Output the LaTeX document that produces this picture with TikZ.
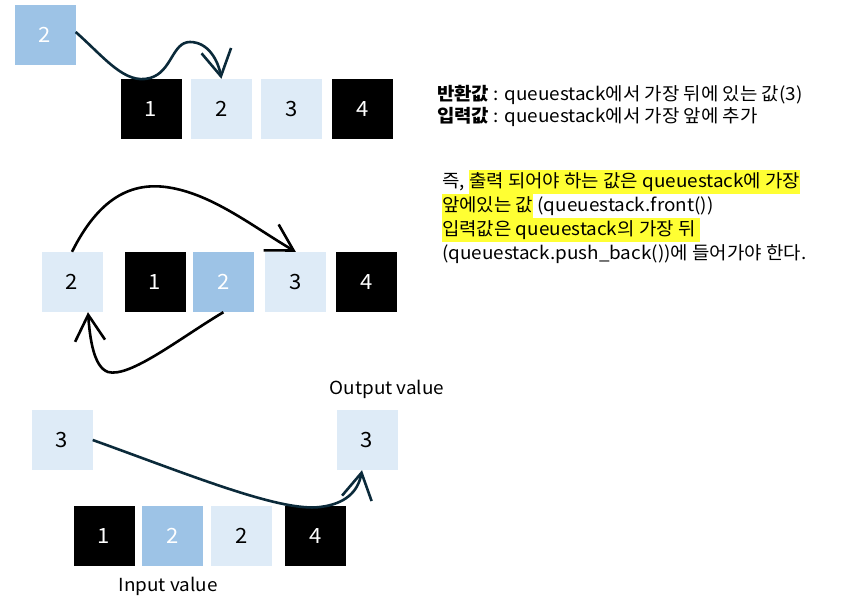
\documentclass[tikz,border=0pt]{standalone}
\usepackage{fontspec}
\setmainfont{Noto Sans CJK KR}[FakeStretch=1.05]
\usetikzlibrary{positioning}
\usetikzlibrary{arrows.meta}
\definecolor{cellblue}{HTML}{9DC3E6}
\definecolor{cellpale}{HTML}{DEEBF7}
\definecolor{arrownavy}{HTML}{0B2A3A}
\definecolor{markyellow}{HTML}{FFFF33}
\newcommand{\hlmark}[1]{{\setlength{\fboxsep}{0pt}\colorbox{markyellow}{\strut #1}}}

\begin{document}
\begin{tikzpicture}[x=1pt, y=-1pt, node distance=9pt,
    every node/.style={inner sep=0pt, font=\fontsize{21}{25}\selectfont},
    cell/.style={minimum width=61pt, minimum height=60pt},
    darkcell/.style={cell, fill=black, text=white},
    bluecell/.style={cell, fill=cellblue, text=white},
    palecell/.style={cell, fill=cellpale, text=black},
    swoop/.style={line width=2.6pt, -{Straight Barb[length=26pt, width=30pt]}},
    note/.style={anchor=base west, font=\fontsize{18}{24}\selectfont},
    caption/.style={font=\fontsize{18}{22}\selectfont}]

    \useasboundingbox (0,0) rectangle (847,610);

    % First step: push front
    \node[bluecell] (topin) at (45,35) {2};
    \node[darkcell] (top1) at (151,109) {1};
    \node[palecell, right=of top1] (top2) {2};
    \node[palecell, right=of top2] (top3) {3};
    \node[darkcell, right=of top3] (top4) {4};

    \draw[swoop, arrownavy] ([yshift=3pt]topin.east) .. controls (105,58) and (125,85) .. (150,78)
        .. controls (172,72) and (172,42) .. (190,42)
        .. controls (208,42) and (218,60) .. (top2.north);

    % Second step: swap
    \node[palecell] (midin) at (72,282) {2};
    \node[darkcell] (mid1) at (155,282) {1};
    \node[bluecell, right=7pt of mid1] (mid2) {2};
    \node[palecell, right=11pt of mid2] (mid3) {3};
    \node[darkcell, right=9pt of mid3] (mid4) {4};

    \draw[swoop] (midin.north) .. controls (98,200) and (130,180) .. (172,188)
        .. controls (215,196) and (255,228) .. (mid3.north);
    \draw[swoop] (mid2.south) .. controls (180,338) and (130,378) .. (108,372)
        .. controls (94,367) and (90,340) .. ([xshift=16pt]midin.south);

    % Third step: pop back
    \node[palecell] (botin) at (62,440) {3};
    \node[palecell] (botout) at (367,440) {3};
    \node[darkcell] (bot1) at (104,536) {1};
    \node[bluecell, right=7pt of bot1] (bot2) {2};
    \node[palecell, right=8pt of bot2] (bot3) {2};
    \node[darkcell, right=12pt of bot3] (bot4) {4};
    \node[caption] (outlabel) at (387,389) {Output value};
    \node[caption] (inlabel) at (168,586) {Input value};

    \draw[swoop, arrownavy] (botin.east) .. controls (190,475) and (280,512) .. (320,507)
        .. controls (345,504) and (358,492) .. ([xshift=-5pt]botout.south);

    % Notes
    \node[note] (retline) at (437,100) {\textbf{반환값} : queuestack에서 가장 뒤에 있는 값(3)};
    \node[note] (inline) at (437,122) {\textbf{입력값} : queuestack에서 가장 앞에 추가};
    \node[note] (sayA) at (442,187) {즉, \hlmark{출력 되어야 하는 값은 queuestack에 가장}};
    \node[note] (sayB) at (442,211) {\hlmark{앞에있는 값} (queuestack.front())};
    \node[note] (sayC) at (442,235) {\hlmark{입력값은 queuestack의 가장 뒤 }};
    \node[note] (sayD) at (442,259) {(queuestack.push\_back())에 들어가야 한다.};

\end{tikzpicture}
\end{document}
